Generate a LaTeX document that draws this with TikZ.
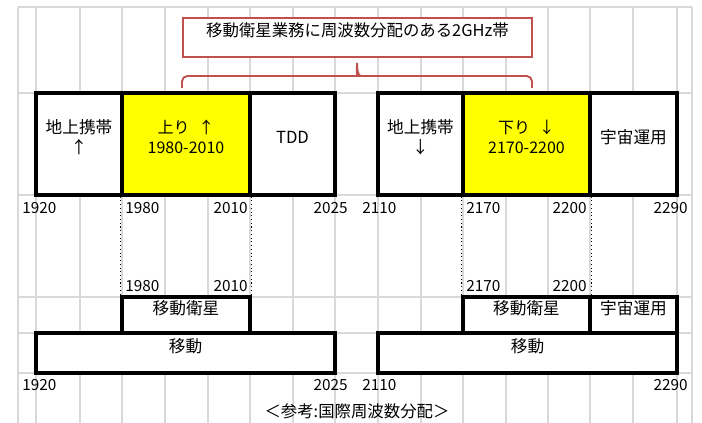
\documentclass[tikz,border=0pt]{standalone}
\usepackage{fontspec}
\setmainfont{Noto Sans CJK JP}
\usetikzlibrary{fit}
\definecolor{gridgray}{RGB}{217,217,217}
\definecolor{callred}{RGB}{192,80,77}
\definecolor{bandyellow}{RGB}{255,255,0}
\tikzset{
  band/.style={draw=black, line width=2.4pt, fill=white, inner sep=0pt,
    font=\fontsize{12.5}{15}\selectfont, align=center},
  upband/.style={band, fill=bandyellow, font=\fontsize{12}{15}\selectfont},
  num/.style={inner sep=0pt, font=\fontsize{11.5}{13}\selectfont},
  gridline/.style={draw=gridgray, line width=1.2pt},
  guide/.style={dotted, line width=0.8pt},
  callout/.style={draw=callred, line width=1.1pt, fill=white, inner sep=0pt,
    font=\fontsize{12.3}{14}\selectfont},
  bracket/.style={draw=callred, line width=1.4pt},
  caption/.style={inner sep=0pt, font=\fontsize{12.3}{14}\selectfont}
}
\begin{document}
\begin{tikzpicture}[x=0.75pt,y=-0.75pt]
\useasboundingbox (0,0) rectangle (702,423);
% spreadsheet grid
\foreach \gx in {18,36,80,122,165,208,250,293,335,378,421,463,506,548,590,633,677,692}
  \draw[gridline] (\gx,7) -- (\gx,423);
\foreach \gy in {7,93,195,297,333,373}
  \draw[gridline] (18,\gy) -- (692,\gy);

% callout
\node[callout, fit={(183,18)(532,57)}] (title) {移動衛星業務に周波数分配のある2GHz帯};
\draw[bracket] (182,88) [rounded corners=4pt] -- (182,76) -- (353,76) [sharp corners]
  .. controls (356,76) and (357,70) .. (357,63)
  .. controls (357,70) and (358,76) .. (361,76) [rounded corners=4pt]
  -- (532,76) -- (532,88);

% upper bands
\node[band, fit={(36,93)(122,195)}] (a1) {地上携帯\\↑};
\node[upband, fit={(122,93)(250,195)}] (a2) {上り\hspace{0.55em}↑\\1980-2010};
\node[band, fit={(250,93)(335,195)}] (a3) {TDD};
\node[band, fit={(378,93)(463,195)}] (b1) {地上携帯\\↓};
\node[upband, fit={(463,93)(590,195)}] (b2) {下り\hspace{0.55em}↓\\2170-2200};
\node[band, fit={(590,93)(677,195)}] (b3) {宇宙運用};

% lower bands
\node[band, fit={(122,297)(250,333)}] (c1) {移動衛星};
\node[band, fit={(36,333)(335,373)}] (c2) {移動};
\node[band, fit={(463,297)(590,333)}] (d1) {移動衛星};
\node[band, fit={(590,297)(677,333)}] (d2) {宇宙運用};
\node[band, fit={(378,333)(677,373)}] (d3) {移動};

% dotted guides
\draw[guide] (a2.south west) -- (c1.north west);
\draw[guide] (a2.south east) -- (c1.north east);
\draw[guide] (b2.south west) -- (d1.north west);
\draw[guide] (b2.south east) -- (d1.north east);

% frequency labels, first row
\node[num, anchor=west] (t1) at (22,208) {1920};
\node[num, anchor=west] (t2) at (125,208) {1980};
\node[num, anchor=east] (t3) at (248,208) {2010};
\node[num, anchor=east] (t4) at (348,208) {2025};
\node[num, anchor=west] (t5) at (362,208) {2110};
\node[num, anchor=west] (t6) at (466,208) {2170};
\node[num, anchor=east] (t7) at (587,208) {2200};
\node[num, anchor=east] (t8) at (688,208) {2290};
% second row
\node[num, anchor=west] (s1) at (125,286) {1980};
\node[num, anchor=east] (s2) at (248,286) {2010};
\node[num, anchor=west] (s3) at (466,286) {2170};
\node[num, anchor=east] (s4) at (587,286) {2200};
% third row
\node[num, anchor=west] (u1) at (22,385) {1920};
\node[num, anchor=east] (u2) at (348,385) {2025};
\node[num, anchor=west] (u3) at (362,385) {2110};
\node[num, anchor=east] (u4) at (688,385) {2290};

\node[caption] (cap) at (357,411) {＜参考:国際周波数分配＞};
\end{tikzpicture}
\end{document}
